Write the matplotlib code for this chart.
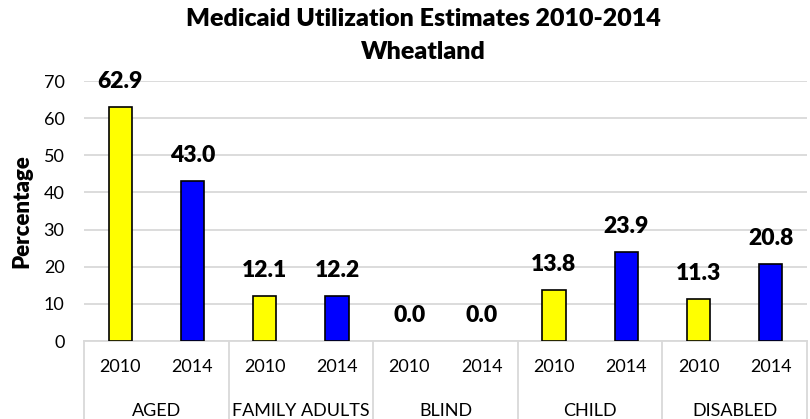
import matplotlib
matplotlib.use("Agg")
import matplotlib.pyplot as plt
from matplotlib.lines import Line2D
import matplotlib.transforms as mtransforms

categories = ["AGED", "FAMILY ADULTS", "BLIND", "CHILD", "DISABLED"]
years = ["2010", "2014"]
values_2010 = [62.9, 12.1, 0.0, 13.8, 11.3]
values_2014 = [43.0, 12.2, 0.0, 23.9, 20.8]
yticks = [0, 10, 20, 30, 40, 50, 60, 70]

plt.rcParams['font.family'] = ['Lato', 'DejaVu Sans']
BOLD = "heavy"

W, H = 810, 419
fig = plt.figure(figsize=(W / 100, H / 100), dpi=100)
ax = fig.add_axes([84 / W, 1 - 341 / H, (807 - 84) / W, (341 - 81) / H])

grid_c = "#d9d9d9"
bw = 0.32
xs10 = [2 * i for i in range(len(categories))]
xs14 = [2 * i + 1 for i in range(len(categories))]
lw10 = [1.2 if v > 0 else 0 for v in values_2010]
lw14 = [1.2 if v > 0 else 0 for v in values_2014]
b1 = ax.bar(xs10, values_2010, width=bw, color="#ffff00", edgecolor="black", linewidth=lw10, zorder=3)
b2 = ax.bar(xs14, values_2014, width=bw, color="#0000ff", edgecolor="black", linewidth=lw14, zorder=3)

for bars, vals in ((b1, values_2010), (b2, values_2014)):
    for rect, v in zip(bars, vals):
        ax.annotate(f"{v:.1f}", (rect.get_x() + rect.get_width() / 2, v),
                    xytext=(0, 13.7), textcoords="offset points",
                    ha="center", va="baseline", fontsize=16.5, fontweight=BOLD,
                    annotation_clip=False)

ax.set_xlim(-0.5, 2 * len(categories) - 0.5)
ax.set_ylim(0, 70)
ax.set_yticks(yticks)
ax.set_yticklabels([str(t) for t in yticks])
ax.yaxis.grid(True, color=grid_c, linewidth=1.3, zorder=0)
ax.set_axisbelow(True)
for s in ("top", "right", "left"):
    ax.spines[s].set_visible(False)
ax.spines["bottom"].set_color(grid_c)
ax.spines["bottom"].set_linewidth(1.3)
ax.tick_params(axis="y", length=0, pad=14, labelsize=13)

xt = xs10 + xs14
ax.set_xticks(sorted(xt))
ax.set_xticklabels([years[i % 2] for i in range(len(xt))])
ax.tick_params(axis="x", length=0, pad=13, labelsize=13)

trans = mtransforms.blended_transform_factory(ax.transData, ax.transAxes)
for i, c in enumerate(categories):
    ax.text(2 * i + 0.5, -0.27, c, transform=trans, ha="center", va="center", fontsize=13)
for k in range(len(categories) + 1):
    ax.add_line(Line2D([2 * k - 0.5, 2 * k - 0.5], [0, -0.32], transform=trans,
                       color=grid_c, linewidth=1.3, clip_on=False))

ax.set_ylabel("Percentage", fontsize=16, fontweight=BOLD, labelpad=8)

fig.text(423 / W, 1 - 19 / H, "Medicaid Utilization Estimates 2010-2014", ha="center", va="center",
         fontsize=18, fontweight=BOLD)
fig.text(423 / W, 1 - 52 / H, "Wheatland", ha="center", va="center", fontsize=18, fontweight=BOLD)

fig.savefig("out.png", dpi=100)
